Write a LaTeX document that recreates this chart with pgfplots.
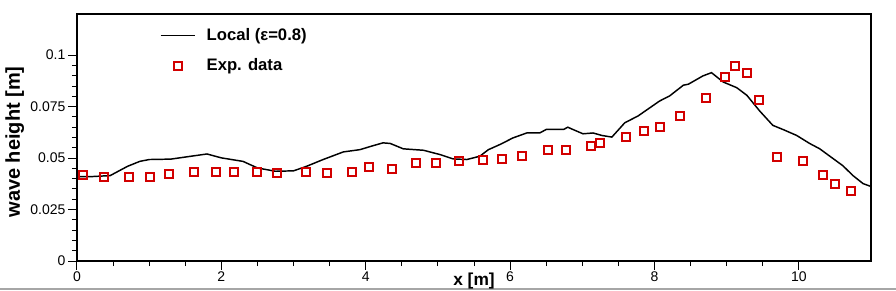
\documentclass[border=0pt]{standalone}
\usepackage{fontspec}
\setmainfont{Liberation Sans}
\usepackage{pgfplots}
\pgfplotsset{compat=1.18}
\definecolor{expred}{RGB}{210,0,0}
\begin{document}
\begin{tikzpicture}[x=1pt,y=1pt]
\draw[black!35, line width=1.1pt] (0,0.9) -- (672,0.9);
\begin{axis}[name=ax,
  at={(57.75pt,21.75pt)}, anchor=south west, scale only axis,
  width=595.5pt, height=185.25pt,
  xmin=0, xmax=11, ymin=0, ymax=0.12,
  xtick={0,2,4,6,8,10}, xticklabels={0,2,4,6,8,10},
  ytick={0,0.025,0.05,0.075,0.1}, yticklabels={0,0.025,0.05,0.075,0.1},
  minor x tick num=3, minor y tick num=4,
  tick align=outside, xtick pos=left, ytick pos=left,
  major tick length=6.5pt, minor tick length=3.75pt,
  axis line style={line width=0.8pt},
  every tick/.style={black, line width=0.75pt},
  tick label style={font=\fontsize{10.5}{12}\selectfont},
  xticklabel style={inner sep=1.5pt},
  yticklabel style={inner sep=2pt},
  xlabel={x [m]}, ylabel={wave height [m]},
  xlabel style={font=\bfseries\fontsize{13}{15}\selectfont, at={(axis description cs:0.5,-0.101)}, anchor=base},
  ylabel style={font=\bfseries\fontsize{15}{17}\selectfont, at={(axis description cs:-0.0785,0.482)}, anchor=center},
  legend cell align=left,
  legend style={draw=none, fill=none, at={(axis description cs:0.104,0.958)}, anchor=north west,
    font=\bfseries\fontsize{12.5}{14}\selectfont, row sep=6pt, inner sep=0pt,
    nodes={inner sep=3pt},
    /tikz/every odd column/.append style={column sep=5pt}},
  legend image code/.code={\draw[mark repeat=2,mark phase=2,#1] plot coordinates {(0pt,0pt) (13pt,0pt) (26pt,0pt)};},
]
\addplot[black, line width=1.1pt] coordinates {
(0,0.041) (0.2,0.041) (0.46,0.0415) (0.7,0.046) (0.87,0.0484) (1.0,0.0493) (1.3,0.0495)
(1.6,0.051) (1.8,0.052) (2.0,0.0501) (2.3,0.0484) (2.5,0.0452) (2.75,0.0436) (3.0,0.0438)
(3.18,0.046) (3.41,0.0493) (3.69,0.053) (3.92,0.0541) (4.08,0.0558) (4.24,0.0574) (4.34,0.0571)
(4.52,0.0545) (4.8,0.0538) (5.03,0.0517) (5.21,0.0496) (5.4,0.0493) (5.58,0.0509) (5.7,0.0541)
(5.86,0.0566) (6.04,0.0598) (6.23,0.0622) (6.41,0.0622) (6.5,0.0639) (6.74,0.0639) (6.8,0.065)
(6.87,0.0639) (7.01,0.0618) (7.15,0.0622) (7.27,0.061) (7.41,0.0602) (7.59,0.0672) (7.77,0.0704)
(8.07,0.0777) (8.21,0.0802) (8.4,0.0854) (8.47,0.0859) (8.67,0.0899) (8.79,0.0915) (8.95,0.087)
(9.14,0.0842) (9.28,0.0805) (9.46,0.0728) (9.64,0.0659) (9.78,0.0639) (9.97,0.061) (10.15,0.0571)
(10.29,0.0545) (10.43,0.0509) (10.61,0.0463) (10.75,0.0415) (10.89,0.0376) (11.0,0.0362)
};
\addlegendentry{Local (ε=0.8)}
\addplot[only marks, mark=square, mark size=3pt, mark options={draw=expred, fill=none, line width=1.5pt}] coordinates {
(0.08,0.042) (0.37,0.0406) (0.72,0.041) (1.01,0.041) (1.27,0.0421) (1.62,0.0431) (1.93,0.0431)
(2.17,0.0431) (2.49,0.0431) (2.77,0.0429) (3.17,0.0431) (3.47,0.0426) (3.81,0.0431) (4.05,0.0455)
(4.36,0.0449) (4.69,0.0475) (4.97,0.0475) (5.29,0.0484) (5.62,0.0489) (5.89,0.0494) (6.17,0.0512)
(6.52,0.0541) (6.77,0.0541) (7.12,0.0561) (7.24,0.0572) (7.6,0.0602) (7.85,0.0631) (8.08,0.065)
(8.36,0.0704) (8.72,0.079) (8.98,0.0894) (9.11,0.0948) (9.28,0.0914) (9.45,0.0782) (9.70,0.0507)
(10.06,0.0488) (10.33,0.042) (10.5,0.0372) (10.72,0.0338)
};
\addlegendentry{Exp. data}
\end{axis}
\draw[line width=1.5pt, black] (ax.south west) rectangle (ax.north east);
\pgfresetboundingbox
\path (0,0) rectangle (672,217.5);
\end{tikzpicture}
\end{document}
